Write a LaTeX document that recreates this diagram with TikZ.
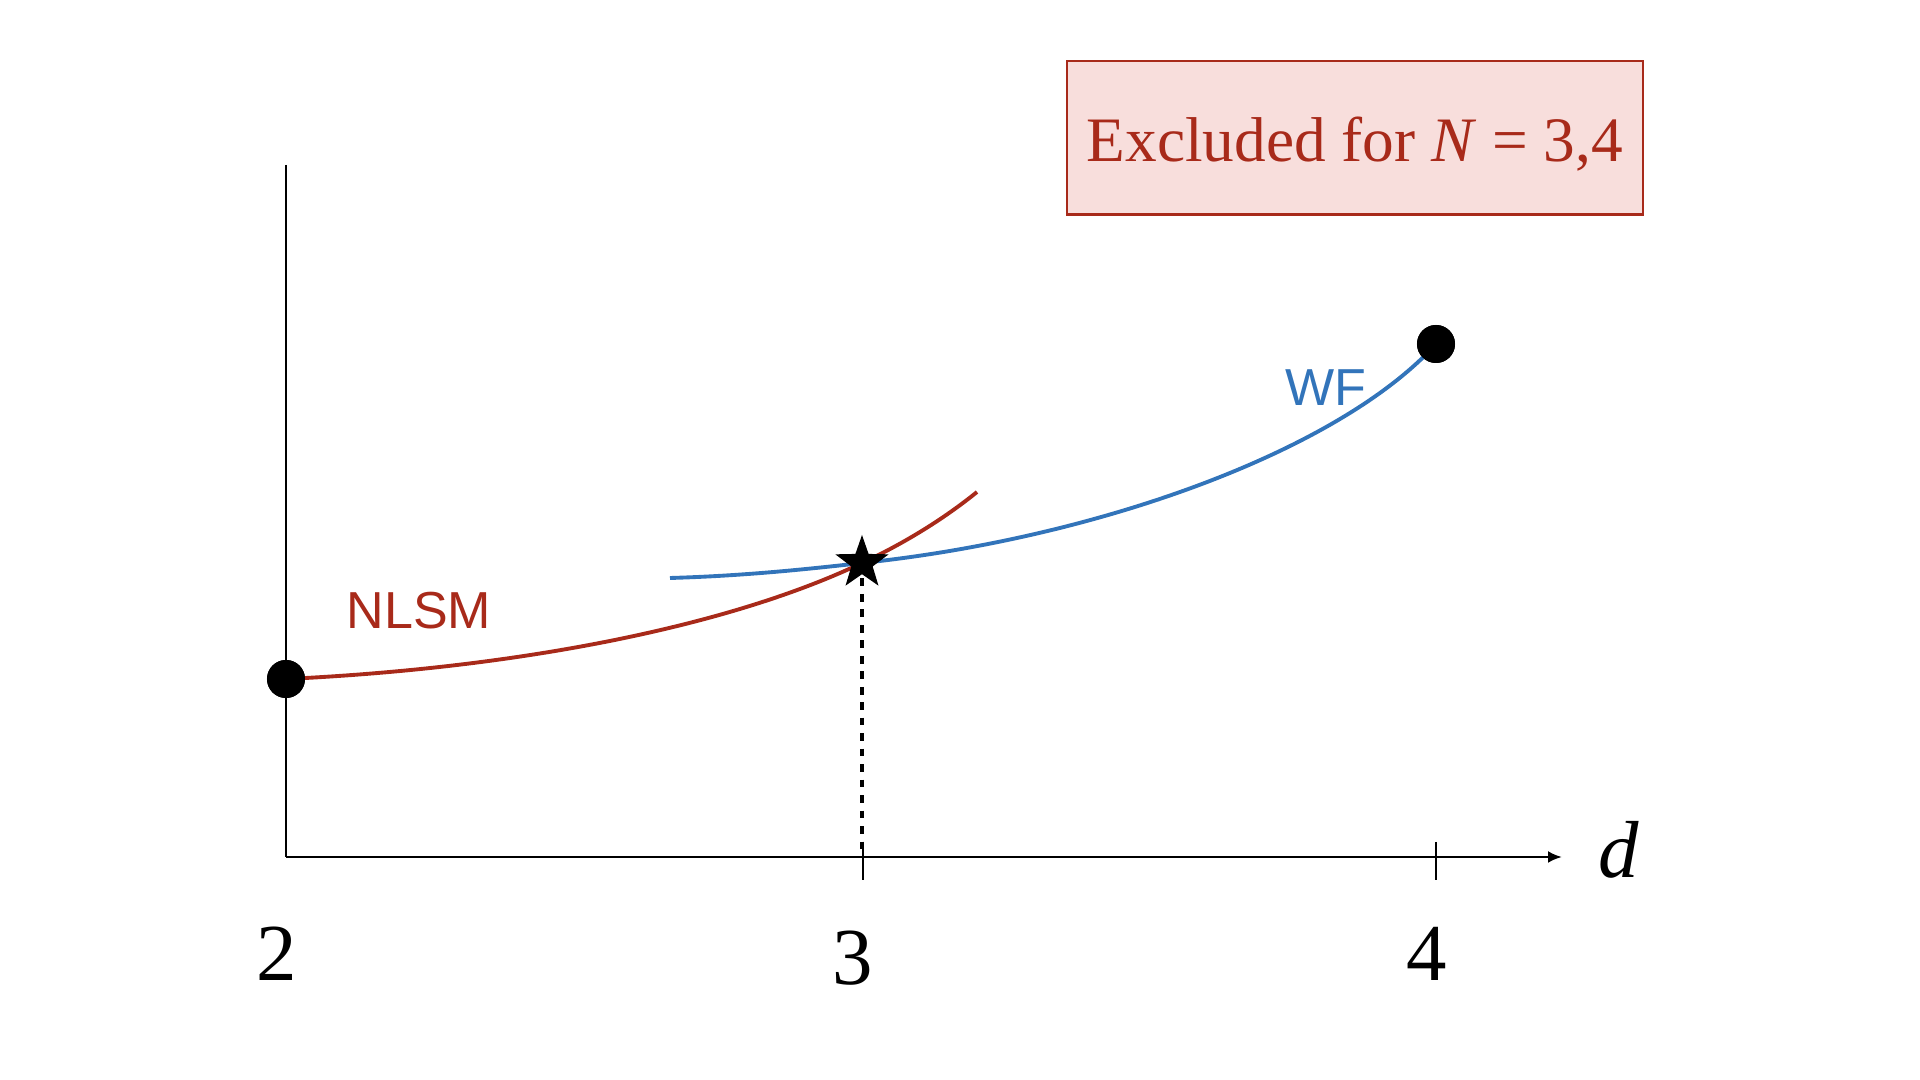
\documentclass[tikz,border=0pt]{standalone}
\usepackage{fontspec}
\setmainfont{Liberation Serif}
\newfontfamily\lblfont{Liberation Sans}
\usetikzlibrary{shapes.geometric,arrows.meta}
\definecolor{myred}{RGB}{168,42,26}
\definecolor{myblue}{RGB}{50,116,186}
\definecolor{mypink}{RGB}{248,222,220}
\begin{document}
\begin{tikzpicture}[x=0.01cm,y=-0.01cm,
  axis/.style={line width=0.75pt,black},
  dotnode/.style={circle,fill=black,inner sep=0pt,minimum size=0.38cm},
  curvelbl/.style={font=\lblfont\fontsize{14.8}{16}\selectfont},
  ticklbl/.style={font=\fontsize{23}{26}\selectfont},
  redc/.style={myred,line width=1.1pt},
  bluec/.style={myblue,line width=1.1pt}]
\useasboundingbox (0,0) rectangle (1920,1080);
% axes
\coordinate (O) at (286,857);
\coordinate (ytop) at (286,165);
\coordinate (xend) at (1562,857);
\draw[axis] (ytop) -- (O);
\draw[axis,-{Latex[length=0.14cm,width=0.12cm]}] (O) -- (xend);
\coordinate (t3a) at (863,842); \coordinate (t3b) at (863,880);
\coordinate (t4a) at (1436,842); \coordinate (t4b) at (1436,880);
\draw[axis] (t3a) -- (t3b);
\draw[axis] (t4a) -- (t4b);
% curves
\node[dotnode] (d2) at (286,679) {};
\node[dotnode] (d4) at (1436,344) {};
\coordinate (S) at (862,563);
\coordinate (redend) at (977,492);
\coordinate (bluestart) at (670,578);
\draw[redc] (d2.center) .. controls (520,668) and (730,626) .. (S) .. controls (905,543) and (945,518) .. (redend);
\draw[bluec] (bluestart) .. controls (740,576) and (800,570) .. (S) .. controls (1100,538) and (1340,450) .. (d4.center);
\node[dotnode] at (d2) {};
\node[dotnode] at (d4) {};
% dotted
\coordinate (S3) at (862,857);
\draw[line width=0.9pt,dash pattern=on 2.2pt off 2.2pt] (S) -- (S3);
\node[star,star points=5,star point ratio=2.5,fill=black,inner sep=0pt,minimum size=0.56cm] (star) at (S) {};
% labels
\node[curvelbl,text=myred] (nlsm) at (419,611) {NLSM};
\node[curvelbl,text=myblue] (wf) at (1326,388) {WF};
\node[ticklbl] (l2) at (277,954) {2};
\node[ticklbl] (l3) at (853,958) {3};
\node[ticklbl] (l4) at (1427,954) {4};
\node[ticklbl] (ld) at (1619,850) {\itshape d};
% box
\node[draw=myred,fill=mypink,line width=0.6pt,minimum width=5.75cm,minimum height=1.53cm,
  text=myred,font=\fontsize{18}{20}\selectfont] (box) at (1355,138) {\raisebox{-0.06cm}[\height][\depth]{Excluded for \textit{N} = 3,4}};
\end{tikzpicture}
\end{document}
